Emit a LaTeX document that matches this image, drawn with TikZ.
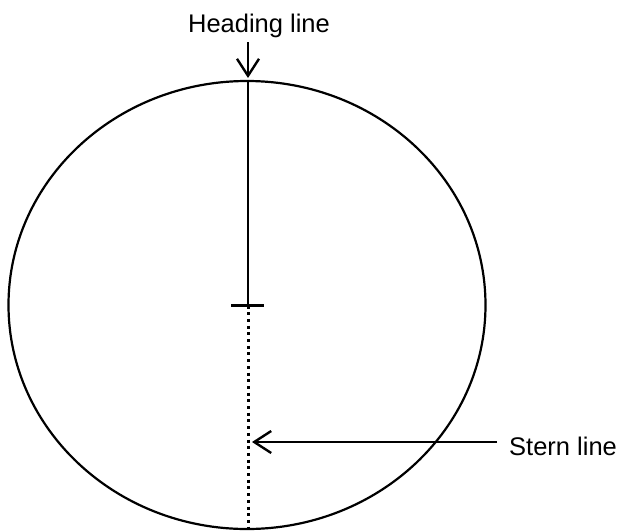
\documentclass[tikz,border=0pt]{standalone}
\usepackage{fontspec}
\setmainfont{Liberation Sans}
\usetikzlibrary{shapes.geometric,arrows.meta}
\begin{document}
\begin{tikzpicture}[x=1pt,y=-1pt,
  lbl/.style={font=\fontsize{25.5}{30}\selectfont, inner sep=0pt},
  stroke/.style={line width=2.4pt},
  ptr/.style={line width=2.4pt, -{Straight Barb[length=17pt,width=22pt,line width=2.4pt]}}]
\useasboundingbox (0,0) rectangle (621,531);
\node[draw, line width=2.2pt, ellipse, inner sep=0pt, minimum width=477pt, minimum height=448pt] (e) at (247,305) {};
\coordinate (c) at (248,305.5);
\coordinate (top) at (248,81);
\coordinate (bot) at (248,529);
\draw[stroke] (top) -- (c);
\draw[line width=3pt, dash pattern=on 3pt off 3.7pt] (c) -- (bot);
\coordinate (tl) at (231,305.5);
\coordinate (tr) at (264,305.5);
\draw[stroke] (tl) -- (tr);
\node[lbl, anchor=base] (h) at (259,32) {Heading line};
\coordinate (ha) at (248,42);
\coordinate (hb) at (248,78);
\draw[ptr] (ha) -- (hb);
\node[lbl, anchor=base west] (s) at (509,455.5) {Stern line};
\coordinate (sa) at (497,442);
\coordinate (sb) at (252,442);
\draw[ptr] (sa) -- (sb);
\end{tikzpicture}
\end{document}
